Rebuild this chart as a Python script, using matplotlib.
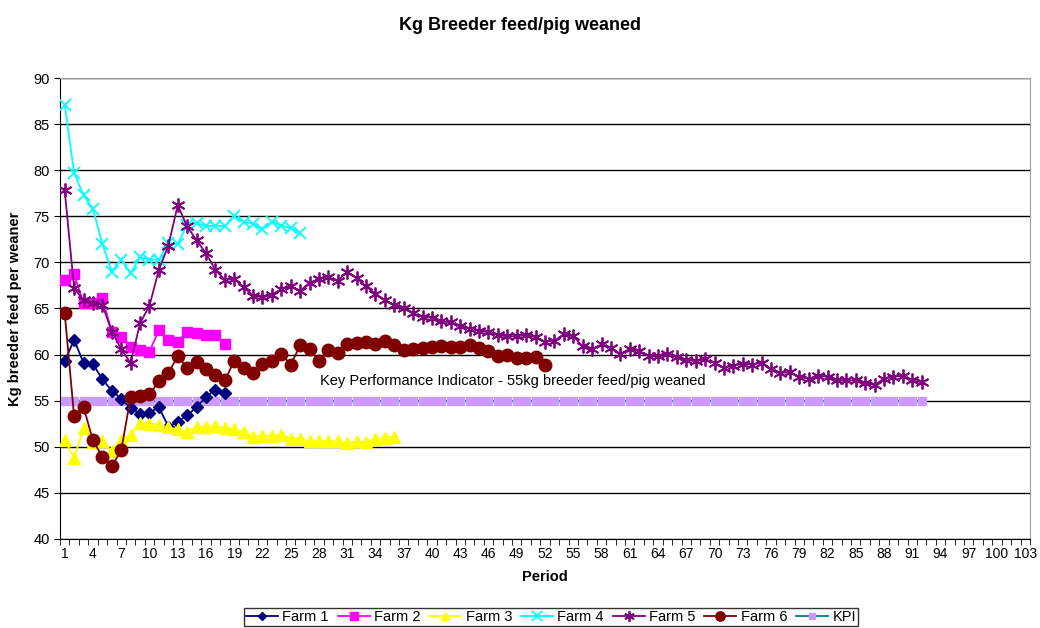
import matplotlib.pyplot as plt

plt.rcParams['font.family'] = ['Liberation Sans', 'DejaVu Sans']

farm1 = [59.3, 61.6, 59.1, 59.0, 57.3, 56.1, 55.2, 54.2, 53.6, 53.7, 54.3, 52.2, 52.7, 53.4, 54.3,
         55.4, 56.2, 55.8]
farm2 = [68.1, 68.7, 65.6, 65.6, 66.1, 62.5, 61.9, 60.8, 60.5, 60.3, 62.7, 61.6, 61.4, 62.5, 62.3,
         62.1, 62.1, 61.2]
farm3 = [50.7, 48.8, 52.0, 50.5, 50.6, 49.5, 50.7, 51.3, 52.6, 52.5, 52.4, 52.1, 51.9, 51.6, 52.2,
         52.1, 52.3, 52.0, 51.9, 51.6, 51.1, 51.2, 51.2, 51.3, 50.9, 50.9, 50.6, 50.6, 50.6, 50.6,
         50.4, 50.6, 50.5, 50.8, 51.0, 51.1]
farm4 = [87.1, 79.7, 77.3, 75.8, 72.0, 69.0, 70.3, 68.8, 70.6, 70.3, 70.3, 72.1, 72.0, 74.1, 74.3,
         73.9, 74.0, 73.9, 75.0, 74.4, 74.2, 73.6, 74.4, 74.0, 73.7, 73.2]
farm5 = [77.8, 67.2, 65.9, 65.6, 65.4, 62.5, 60.6, 59.1, 63.4, 65.3, 69.2, 71.8, 76.2, 73.9, 72.4,
         71.0, 69.2, 68.1, 68.2, 67.3, 66.4, 66.2, 66.5, 67.1, 67.4, 66.9, 67.8, 68.2, 68.4, 68.0,
         69.0, 68.3, 67.4, 66.6, 65.9, 65.4, 65.1, 64.5, 64.1, 64.0, 63.6, 63.5, 63.1, 62.8, 62.6,
         62.4, 62.1, 62.0, 62.0, 62.1, 61.9, 61.4, 61.5, 62.2, 62.0, 60.9, 60.6, 61.1, 60.7, 60.1,
         60.6, 60.4, 59.9, 59.8, 60.1, 59.7, 59.4, 59.3, 59.5, 59.1, 58.6, 58.8, 59.0, 58.9, 59.1,
         58.4, 58.0, 58.1, 57.6, 57.4, 57.7, 57.6, 57.2, 57.2, 57.2, 56.9, 56.7, 57.4, 57.6, 57.7,
         57.2, 57.0]
farm6 = [64.5, 53.3, 54.3, 50.7, 48.9, 47.9, 49.6, 55.4, 55.5, 55.7, 57.1, 58.0, 59.8, 58.6, 59.2,
         58.4, 57.8, 57.2, 59.3, 58.6, 58.0, 59.0, 59.3, 60.1, 58.9, 61.0, 60.6, 59.3, 60.5, 60.2,
         61.1, 61.3, 61.4, 61.2, 61.5, 61.0, 60.5, 60.6, 60.7, 60.8, 60.9, 60.8, 60.8, 61.0, 60.7,
         60.4, 59.9, 60.0, 59.6, 59.6, 59.7, 58.9]
kpi = [55] * 92

periods = list(range(1, 104))
tick_labels = [str(p) for p in periods[::3]]

fig = plt.figure(figsize=(10.4, 6.28), dpi=100)
ax = fig.add_axes([60 / 1040, 1 - 539 / 628, 970 / 1040, 461 / 628])


def xs(vals):
    return periods[:len(vals)]


lw = 1.3
ax.plot(xs(kpi), kpi, color='#008080', lw=lw, marker='s', ms=5.5, mfc='#CC99FF', mec='#CC99FF',
        label='KPI', zorder=2)
ax.plot(xs(farm1), farm1, color='#000080', lw=lw, marker='D', ms=6, label='Farm 1', zorder=3)
ax.plot(xs(farm2), farm2, color='#FF00FF', lw=lw, marker='s', ms=7.5, label='Farm 2', zorder=3)
ax.plot(xs(farm3), farm3, color='#FFFF00', lw=lw, marker='^', ms=8.5, label='Farm 3', zorder=3)
ax.plot(xs(farm4), farm4, color='#00FFFF', lw=lw, marker='x', ms=9, mew=1.3, label='Farm 4', zorder=3)
ax.plot(xs(farm5), farm5, color='#800080', lw=lw, marker=(6, 2, 0), ms=10, mew=1.3, label='Farm 5',
        zorder=3)
ax.plot(xs(farm6), farm6, color='#800000', lw=lw, marker='o', ms=9, label='Farm 6', zorder=3)

ax.text(28.1, 57.1, 'Key Performance Indicator - 55kg breeder feed/pig weaned', fontsize=10.5,
        va='center', ha='left')

ax.set_xlim(0.5, 103.5)
ax.set_ylim(40, 90)
ax.set_yticks(range(40, 91, 5))
ax.set_xticks(periods[::3])
ax.set_xticklabels(tick_labels)
ax.set_xticks([p + 0.5 for p in range(0, 104)], minor=True)
ax.tick_params(axis='x', which='major', length=0, pad=6, labelsize=10)
ax.tick_params(axis='x', which='minor', length=4, direction='out')
ax.tick_params(axis='y', length=4, direction='out', labelsize=10.5)
ax.grid(axis='y', color='black', lw=1)
ax.set_axisbelow(True)
for s in ['top', 'right']:
    ax.spines[s].set_color('#A0A0A0')
for s in ['left', 'bottom']:
    ax.spines[s].set_color('black')

ax.set_xlabel('Period', fontsize=10.5, fontweight='bold', labelpad=6)
ax.set_ylabel('Kg breeder feed per weaner', fontsize=10.5, fontweight='bold', labelpad=8)
fig.text(520 / 1040, 1 - 25 / 628, 'Kg Breeder feed/pig weaned', fontsize=13, fontweight='bold',
         ha='center', va='center')

handles, labels = ax.get_legend_handles_labels()
order = [1, 2, 3, 4, 5, 6, 0]
leg = fig.legend([handles[i] for i in order], [labels[i] for i in order], loc='upper center',
                 bbox_to_anchor=(551 / 1040, 1 - 608 / 628), ncol=7, fontsize=10.5, frameon=True,
                 fancybox=False, edgecolor='black', handlelength=2.2, columnspacing=0.6,
                 handletextpad=0.3, borderpad=0.15, borderaxespad=0, markerscale=0.75)
leg.get_frame().set_linewidth(1)

plt.savefig('out.png', dpi=100)
